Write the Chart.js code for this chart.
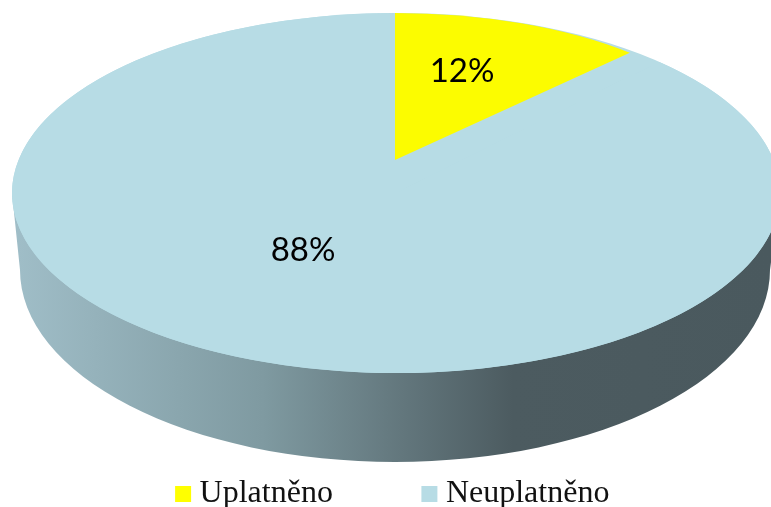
<!DOCTYPE html>
<html><head><meta charset="utf-8">
<style>
html,body{margin:0;padding:0;background:#fff;overflow:hidden;width:771px;height:507px}
#w{width:771px;height:507px;overflow:hidden;position:relative}
canvas{display:block}
</style>
<script src="https://cdn.jsdelivr.net/npm/chart.js@4"></script>
</head><body><div id="w"><canvas id="c" width="771" height="520"></canvas></div>
<script>
const categories = ['Uplatněno', 'Neuplatněno'];
const values = [12, 88];
const sliceColors = ['#fcfc00', '#b7dce5'];
const legendColors = ['#ffff00', '#b7dce5'];

// Perspective look of the pie: top face, wedge apex, lower rim
const face = {cx: 396, cy: 193, rx: 384, ry: 180};
const wedge = {cx: 395, cy: 160, rx: 343, ry: 147};
const rim = {cx: 395, cy: 270, rx: 375, ry: 192};
const labelAnchors = [[462, 71], [303, 250]];

function mapArc(ctx, arc, m) {
  const R = arc.outerRadius, sx = m.rx / R, sy = m.ry / R;
  ctx.transform(sx, 0, 0, sy, m.cx - arc.x * sx, m.cy - arc.y * sy);
}
const pie3d = {
  id: 'pie3d',
  beforeDatasetDraw(chart, args) {
    const ctx = chart.ctx, arcs = chart.getDatasetMeta(args.index).data;
    const g = ctx.createLinearGradient(12, 0, 771, 0);
    g.addColorStop(0, '#a0bec8');
    g.addColorStop(0.33, '#7f9aa1');
    g.addColorStop(0.66, '#4c5b60');
    g.addColorStop(1, '#4a595e');
    ctx.save();
    ctx.beginPath();
    ctx.moveTo(face.cx - face.rx, face.cy);
    ctx.lineTo(rim.cx - rim.rx, rim.cy);
    ctx.ellipse(rim.cx, rim.cy, rim.rx, rim.ry, 0, Math.PI, 0, true);
    ctx.lineTo(face.cx + face.rx, face.cy);
    ctx.closePath();
    ctx.fillStyle = g;
    ctx.fill();
    ctx.beginPath();
    ctx.ellipse(face.cx, face.cy, face.rx, face.ry, 0, 0, Math.PI * 2);
    ctx.fillStyle = sliceColors[1];
    ctx.fill();
    ctx.restore();
    [1, 0].forEach(i => {
      ctx.save();
      mapArc(ctx, arcs[i], i === 0 ? wedge : face);
      arcs[i].draw(ctx);
      ctx.restore();
    });
    return false;
  },
  afterDatasetsDraw(chart) {
    const ctx = chart.ctx, d = chart.data.datasets[0].data;
    const total = d.reduce((a, b) => a + b, 0);
    ctx.save();
    ctx.font = '33px Lato';
    ctx.fillStyle = '#000';
    ctx.textAlign = 'center';
    ctx.textBaseline = 'middle';
    d.forEach((v, i) => ctx.fillText(Math.round(v / total * 100) + '%', labelAnchors[i][0], labelAnchors[i][1]));
    ctx.restore();
  }
};
new Chart(document.getElementById('c'), {
  type: 'pie',
  data: {labels: categories, datasets: [{data: values, backgroundColor: sliceColors, borderWidth: 0}]},
  plugins: [pie3d],
  options: {
    responsive: false,
    animation: false,
    devicePixelRatio: 1,
    layout: {padding: {left: 21}},
    plugins: {
      tooltip: {enabled: false},
      legend: {
        position: 'bottom',
        labels: {
          boxWidth: 1, boxHeight: 1, padding: 96, color: '#111',
          font: {family: '"Liberation Serif"', size: 32},
          generateLabels(chart) {
            return Chart.overrides.doughnut.plugins.legend.labels.generateLabels(chart)
              .map((it, i) => ({...it, fillStyle: legendColors[i], strokeStyle: legendColors[i], lineWidth: 15}));
          }
        }
      }
    }
  }
});
</script></body></html>
